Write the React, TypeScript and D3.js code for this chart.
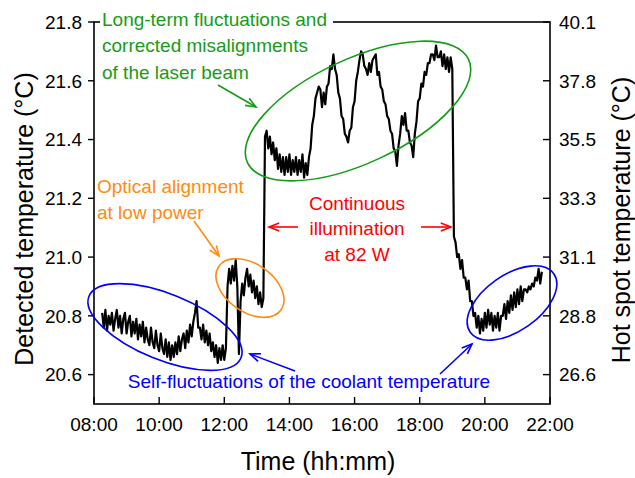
import React from 'react';
import * as d3 from 'd3';

// sampling of the logger trace: first sample at 08:15, one every 3 min
const startHour = 8.25;
const stepHours = 0.05;

// detected coolant temperature (°C)
const detectedTemp = [
  // 08:15 - 09:10
  20.81, 20.76, 20.82, 20.75, 20.80, 20.77, 20.81, 20.75, 20.79, 20.82, 20.76, 20.80, 20.74, 20.79, 20.81, 20.74, 20.78, 20.80, 20.73, 20.78,
  // 09:15 - 10:10
  20.74, 20.79, 20.72, 20.77, 20.73, 20.78, 20.71, 20.76, 20.72, 20.70, 20.76, 20.71, 20.69, 20.75, 20.70, 20.68, 20.74, 20.69, 20.67, 20.72,
  // 10:15 - 11:10
  20.66, 20.71, 20.65, 20.70, 20.66, 20.71, 20.67, 20.73, 20.68, 20.72, 20.74, 20.69, 20.75, 20.71, 20.77, 20.73, 20.78, 20.81, 20.85, 20.76,
  // 11:15 - 12:10
  20.76, 20.72, 20.77, 20.71, 20.75, 20.70, 20.74, 20.68, 20.71, 20.66, 20.70, 20.64, 20.69, 20.65, 20.70, 20.65, 20.69, 20.90, 20.96, 20.91,
  // 12:15 - 13:10
  20.97, 20.92, 20.99, 20.90, 20.67, 20.85, 20.91, 20.87, 20.93, 20.96, 20.90, 20.94, 20.88, 20.92, 20.86, 20.90, 20.84, 20.88, 20.83, 20.86,
  // 13:15 - 14:10
  21.41, 21.43, 21.37, 21.41, 21.35, 21.39, 21.33, 21.37, 21.30, 21.35, 21.29, 21.34, 21.28, 21.34, 21.29, 21.35, 21.28, 21.33, 21.29, 21.34,
  // 14:15 - 15:10
  21.28, 21.33, 21.29, 21.35, 21.27, 21.32, 21.28, 21.34, 21.37, 21.45, 21.48, 21.54, 21.56, 21.58, 21.57, 21.51, 21.56, 21.52, 21.58, 21.59,
  // 15:15 - 16:10
  21.65, 21.64, 21.69, 21.64, 21.62, 21.56, 21.54, 21.48, 21.47, 21.42, 21.41, 21.39, 21.43, 21.44, 21.51, 21.53, 21.60, 21.63, 21.67, 21.70,
  // 16:15 - 17:10
  21.69, 21.65, 21.64, 21.62, 21.66, 21.63, 21.67, 21.68, 21.69, 21.62, 21.63, 21.58, 21.57, 21.53, 21.52, 21.48, 21.47, 21.43, 21.42, 21.37,
  // 17:15 - 18:10
  21.36, 21.31, 21.38, 21.42, 21.48, 21.45, 21.49, 21.43, 21.43, 21.39, 21.38, 21.34, 21.42, 21.46, 21.53, 21.54, 21.59, 21.58, 21.63, 21.62,
  // 18:15 - 19:10
  21.66, 21.66, 21.69, 21.69, 21.67, 21.72, 21.68, 21.68, 21.70, 21.65, 21.69, 21.64, 21.68, 21.63, 21.68, 21.64, 21.07, 21.05, 21.00, 21.01,
  // 19:15 - 20:10
  20.96, 20.99, 20.93, 20.93, 20.89, 20.92, 20.85, 20.85, 20.80, 20.81, 20.76, 20.80, 20.74, 20.79, 20.75, 20.81, 20.76, 20.82, 20.77, 20.81,
  // 20:15 - 21:10
  20.75, 20.80, 20.76, 20.81, 20.75, 20.80, 20.80, 20.84, 20.79, 20.85, 20.81, 20.87, 20.82, 20.88, 20.83, 20.89, 20.84, 20.90, 20.85, 20.89,
  // 21:15 - 21:45
  20.89, 20.88, 20.90, 20.89, 20.91, 20.90, 20.93, 20.92, 20.96, 20.91, 20.95,
];

const xTicks = [8, 10, 12, 14, 16, 18, 20, 22];
const xTickLabels = ['08:00', '10:00', '12:00', '14:00', '16:00', '18:00', '20:00', '22:00'];
const leftTicks = [20.6, 20.8, 21.0, 21.2, 21.4, 21.6, 21.8];
const rightTickLabels = ['26.6', '28.8', '31.1', '33.3', '35.5', '37.8', '40.1'];

const FONT = '"Liberation Sans", Arial, sans-serif';
const GREEN = '#169c16';
const ORANGE = '#ff8a10';
const RED = '#ff0000';
const BLUE = '#0000ff';

const W = 635;
const H = 478;
const left = 94;
const right = 550;
const top = 22;
const bottom = 404;

// open V arrow from (x1,y1) pointing to (x2,y2)
function Arrow({ x1, y1, x2, y2, color }: { x1: number; y1: number; x2: number; y2: number; color: string }) {
  const ang = Math.atan2(y2 - y1, x2 - x1);
  const len = 11;
  const spread = 0.38;
  const wing = (s: number) => [x2 - len * Math.cos(ang + s), y2 - len * Math.sin(ang + s)];
  const [ax, ay] = wing(spread);
  const [bx, by] = wing(-spread);
  return (
    <g stroke={color} strokeWidth={1.6} fill="none">
      <line x1={x1} y1={y1} x2={x2} y2={y2} />
      <path d={`M${ax},${ay}L${x2},${y2}L${bx},${by}`} />
    </g>
  );
}

function Ellipse({ cx, cy, rx, ry, angle, color }: { cx: number; cy: number; rx: number; ry: number; angle: number; color: string }) {
  return (
    <ellipse cx={cx} cy={cy} rx={rx} ry={ry} transform={`rotate(${angle} ${cx} ${cy})`}
      fill="none" stroke={color} strokeWidth={1.6} />
  );
}

export default function App() {
  const x = d3.scaleLinear().domain([8, 22]).range([left, right]);
  const y = d3.scaleLinear().domain([20.5, 21.8]).range([bottom, top]);

  const line = d3.line<number>()
    .x((_, i) => x(startHour + i * stepHours))
    .y((d) => y(d));

  return (
    <svg width={W} height={H} style={{ position: 'absolute', left: 0, top: 0, background: '#fff' }}
      fontFamily={FONT}>
      {/* frame */}
      <rect x={left} y={top} width={right - left} height={bottom - top} fill="none" stroke="#000" strokeWidth={1.6} />

      {/* left axis (ticks outward) */}
      {leftTicks.map((t) => (
        <g key={`l${t}`}>
          <line x1={left - 6} x2={left} y1={y(t)} y2={y(t)} stroke="#000" strokeWidth={1.4} />
          <text x={left - 12} y={y(t)} dy="0.36em" textAnchor="end" fontSize={19}>{t.toFixed(1)}</text>
        </g>
      ))}

      {/* right axis (ticks inward) */}
      {leftTicks.map((t, i) => (
        <g key={`r${t}`}>
          <line x1={right - 7} x2={right} y1={y(t)} y2={y(t)} stroke="#000" strokeWidth={1.4} />
          <text x={right + 9} y={y(t)} dy="0.36em" textAnchor="start" fontSize={19}>{rightTickLabels[i]}</text>
        </g>
      ))}

      {/* bottom axis (ticks inward) */}
      {xTicks.map((t, i) => (
        <g key={`x${t}`}>
          <line x1={x(t)} x2={x(t)} y1={bottom} y2={bottom - 7} stroke="#000" strokeWidth={1.4} />
          <text x={x(t)} y={431} textAnchor="middle" fontSize={19}>{xTickLabels[i]}</text>
        </g>
      ))}

      {/* axis titles */}
      <text transform="translate(33,219) rotate(-90)" textAnchor="middle" fontSize={25}>
        Detected temperature (°C)
      </text>
      <text transform="translate(630,220) rotate(-90)" textAnchor="middle" fontSize={25}>
        Hot spot temperature (°C)
      </text>
      <text x={318} y={470} textAnchor="middle" fontSize={25}>Time (hh:mm)</text>

      {/* data trace */}
      <path d={line(detectedTemp) ?? ''} fill="none" stroke="#000" strokeWidth={2.2} strokeLinejoin="round" />

      {/* green annotation */}
      <rect x={100} y={10} width={233} height={19} fill="#fff" />
      <g fill={GREEN} fontSize={19}>
        <text x={102} y={26}>Long-term fluctuations and</text>
        <text x={102} y={52}>corrected misalignments</text>
        <text x={102} y={79}>of the laser beam</text>
      </g>
      <Ellipse cx={358} cy={111} rx={122} ry={52} angle={-25} color={GREEN} />
      <Arrow x1={218} y1={85} x2={256} y2={107} color={GREEN} />

      {/* orange annotation */}
      <g fill={ORANGE} fontSize={19}>
        <text x={97} y={193}>Optical alignment</text>
        <text x={97} y={219}>at low power</text>
      </g>
      <Ellipse cx={250} cy={288} rx={38} ry={24} angle={35} color={ORANGE} />
      <Arrow x1={194} y1={221} x2={219} y2={256} color={ORANGE} />

      {/* red annotation */}
      <g fill={RED} fontSize={19} textAnchor="middle">
        <text x={357} y={210}>Continuous</text>
        <text x={357} y={235}>illumination</text>
        <text x={357} y={261}>at 82 W</text>
      </g>
      <Arrow x1={298} y1={227} x2={269} y2={227} color={RED} />
      <Arrow x1={421} y1={227} x2={451} y2={227} color={RED} />

      {/* blue annotations */}
      <text x={309} y={388} fill={BLUE} fontSize={19} textAnchor="middle">
        Self-fluctuations of the coolant temperature
      </text>
      <Ellipse cx={165} cy={327} rx={82} ry={33} angle={22} color={BLUE} />
      <Arrow x1={295} y1={371} x2={250} y2={354} color={BLUE} />
      <Ellipse cx={512} cy={303} rx={51} ry={28} angle={-35} color={BLUE} />
      <Arrow x1={440} y1={374} x2={472} y2={344} color={BLUE} />
    </svg>
  );
}
